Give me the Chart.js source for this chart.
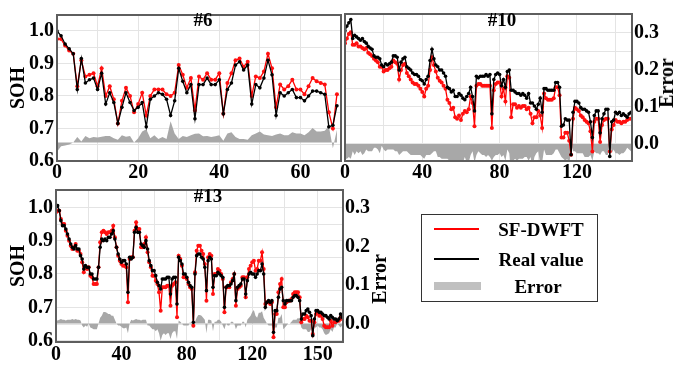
<!DOCTYPE html>
<html>
<head>
<meta charset="utf-8">
<script src="https://cdn.jsdelivr.net/npm/chart.js@4.4.1/dist/chart.umd.min.js"></script>
<style>
  html, body { margin: 0; padding: 0; background: #fff; }
  body { width: 688px; height: 367px; position: relative; overflow: hidden;
         font-family: "Liberation Serif", "Times New Roman", serif; font-weight: bold; color: #000; }
  canvas { position: absolute; }
  .lbl { position: absolute; font-size: 19px; transform: translate(-50%, -50%); white-space: nowrap; line-height: 1; }
  .vlbl { position: absolute; font-size: 20px; transform: translate(-50%, -50%) rotate(-90deg); white-space: nowrap; line-height: 1; }
  .box { position: absolute; left: 421px; top: 214px; width: 177px; height: 88px; border: 1px solid #333; box-sizing: border-box; }
  .key { position: absolute; }
</style>
</head>
<body>
<canvas id="c6" width="345" height="182" style="left:0;top:0"></canvas>
<canvas id="c10" width="368" height="182" style="left:320px;top:0"></canvas>
<canvas id="c13" width="400" height="192" style="left:0;top:175px"></canvas>

<div class="lbl" style="left:203px;top:19px">#6</div>
<div class="lbl" style="left:502px;top:19px">#10</div>
<div class="lbl" style="left:208px;top:195px">#13</div>
<div class="vlbl" style="left:666px;top:83px">Error</div>
<div class="vlbl" style="left:379px;top:279px">Error</div>

<div class="box"></div>
<div class="key" style="left:434px;top:228px;width:45px;height:2px;background:#ff0000"></div>
<div class="key" style="left:434px;top:258px;width:45px;height:2px;background:#000"></div>
<div class="key" style="left:434px;top:282px;width:47px;height:8px;background:#c0c0c0"></div>
<div class="lbl" style="left:541px;top:229px">SF-DWFT</div>
<div class="lbl" style="left:541px;top:259px">Real value</div>
<div class="lbl" style="left:538px;top:286px">Error</div>

<script>
// battery #6
const real6 = [1.0,0.985,0.96,0.945,0.93,0.82,0.915,0.84,0.85,0.855,
  0.82,0.87,0.775,0.81,0.78,0.715,0.765,0.81,0.78,0.755,
  0.765,0.78,0.705,0.79,0.8,0.81,0.805,0.79,0.74,0.785,
  0.885,0.845,0.81,0.835,0.73,0.835,0.835,0.855,0.835,0.835,
  0.85,0.745,0.82,0.84,0.895,0.905,0.88,0.895,0.775,0.835,
  0.825,0.855,0.91,0.865,0.74,0.81,0.8,0.81,0.82,0.795,
  0.795,0.785,0.8,0.815,0.815,0.81,0.805,0.705,0.71,0.77];
const pred6 = [0.975,0.975,0.955,0.94,0.93,0.83,0.91,0.86,0.865,0.87,
  0.83,0.885,0.8,0.83,0.79,0.715,0.785,0.825,0.8,0.75,
  0.775,0.81,0.74,0.8,0.82,0.82,0.82,0.805,0.8,0.81,
  0.895,0.865,0.825,0.855,0.755,0.86,0.85,0.87,0.85,0.85,
  0.87,0.745,0.84,0.87,0.91,0.915,0.89,0.905,0.8,0.86,
  0.855,0.875,0.93,0.885,0.765,0.835,0.82,0.83,0.85,0.82,
  0.82,0.805,0.83,0.855,0.845,0.84,0.835,0.75,0.7,0.805];
const err6 = [-0.025,-0.01,-0.008,-0.005,0.0,0.015,0.003,0.018,0.012,0.015,
  0.014,0.016,0.018,0.018,0.012,0.008,0.02,0.016,0.018,0.0,
  0.012,0.03,0.036,0.012,0.02,0.01,0.015,0.01,0.058,0.025,
  0.01,0.018,0.015,0.02,0.024,0.025,0.017,0.018,0.015,0.017,
  0.02,0.005,0.025,0.028,0.015,0.01,0.01,0.008,0.02,0.025,
  0.03,0.022,0.02,0.018,0.022,0.025,0.02,0.02,0.028,0.025,
  0.025,0.02,0.028,0.04,0.03,0.03,0.032,0.045,-0.015,0.035];

// battery #10
const real10 = [0.998,1.012,1.022,1.032,0.974,0.984,0.979,0.974,0.969,0.974,
  0.965,0.96,0.95,0.945,0.941,0.921,0.917,0.917,0.912,0.893,
  0.888,0.897,0.893,0.897,0.902,0.921,0.921,0.917,0.878,0.902,
  0.912,0.917,0.888,0.883,0.878,0.869,0.864,0.864,0.859,0.849,
  0.845,0.835,0.849,0.859,0.907,0.941,0.912,0.893,0.888,0.878,
  0.878,0.869,0.859,0.825,0.821,0.811,0.816,0.797,0.797,0.806,
  0.801,0.792,0.787,0.797,0.806,0.825,0.797,0.753,0.859,0.854,
  0.859,0.859,0.859,0.864,0.859,0.864,0.744,0.849,0.864,0.869,
  0.864,0.83,0.849,0.825,0.873,0.878,0.816,0.816,0.811,0.806,
  0.806,0.801,0.806,0.801,0.792,0.806,0.777,0.777,0.768,0.758,
  0.773,0.792,0.749,0.821,0.821,0.816,0.816,0.816,0.816,0.84,
  0.84,0.825,0.706,0.71,0.729,0.725,0.725,0.619,0.749,0.782,
  0.782,0.777,0.763,0.758,0.758,0.753,0.749,0.72,0.672,0.739,
  0.753,0.753,0.686,0.729,0.744,0.758,0.758,0.614,0.72,0.725,
  0.749,0.744,0.749,0.739,0.744,0.739,0.734,0.744,0.749];
const pred10 = [0.96,0.974,0.988,0.993,0.955,0.955,0.96,0.95,0.95,0.945,
  0.941,0.945,0.931,0.926,0.921,0.912,0.907,0.902,0.888,0.888,
  0.873,0.878,0.878,0.883,0.888,0.907,0.902,0.897,0.849,0.878,
  0.893,0.897,0.869,0.859,0.849,0.84,0.835,0.835,0.83,0.821,
  0.811,0.797,0.821,0.83,0.878,0.917,0.893,0.873,0.854,0.845,
  0.84,0.83,0.821,0.787,0.777,0.758,0.763,0.734,0.729,0.739,
  0.725,0.744,0.753,0.749,0.758,0.797,0.777,0.706,0.83,0.835,
  0.835,0.83,0.83,0.83,0.83,0.83,0.701,0.816,0.835,0.84,
  0.84,0.797,0.821,0.782,0.859,0.854,0.734,0.773,0.773,0.763,
  0.768,0.763,0.768,0.768,0.758,0.763,0.744,0.715,0.734,0.734,
  0.753,0.739,0.701,0.806,0.792,0.787,0.787,0.787,0.792,0.825,
  0.825,0.801,0.672,0.672,0.686,0.686,0.662,0.619,0.729,0.763,
  0.758,0.753,0.739,0.734,0.725,0.72,0.715,0.691,0.629,0.72,
  0.729,0.729,0.658,0.71,0.725,0.729,0.729,0.629,0.696,0.71,
  0.725,0.72,0.72,0.715,0.72,0.72,0.725,0.729,0.729];
const err10 = [-0.04,-0.04,-0.035,-0.04,-0.02,-0.03,-0.02,-0.025,-0.02,-0.03,
  -0.025,-0.015,-0.02,-0.02,-0.02,-0.01,-0.01,-0.015,-0.025,-0.005,
  -0.015,-0.02,-0.015,-0.015,-0.015,-0.015,-0.02,-0.02,-0.03,-0.025,
  -0.02,-0.02,-0.02,-0.025,-0.03,-0.03,-0.03,-0.03,-0.03,-0.03,
  -0.035,-0.04,-0.03,-0.03,-0.03,-0.025,-0.02,-0.02,-0.035,-0.035,
  -0.04,-0.04,-0.04,-0.04,-0.045,-0.055,-0.055,-0.065,-0.07,-0.07,
  -0.08,-0.05,-0.035,-0.05,-0.05,-0.03,-0.02,-0.05,-0.03,-0.02,
  -0.025,-0.03,-0.03,-0.035,-0.03,-0.035,-0.045,-0.035,-0.03,-0.03,
  -0.025,-0.035,-0.03,-0.045,-0.015,-0.025,-0.085,-0.045,-0.04,-0.045,
  -0.04,-0.04,-0.04,-0.035,-0.035,-0.045,-0.035,-0.065,-0.035,-0.025,
  -0.02,-0.055,-0.05,-0.015,-0.03,-0.03,-0.03,-0.03,-0.025,-0.015,
  -0.015,-0.025,-0.035,-0.04,-0.045,-0.04,-0.065,0.0,-0.02,-0.02,
  -0.025,-0.025,-0.025,-0.025,-0.035,-0.035,-0.035,-0.03,-0.045,-0.02,
  -0.025,-0.025,-0.03,-0.02,-0.02,-0.03,-0.03,0.015,-0.025,-0.015,
  -0.025,-0.025,-0.03,-0.025,-0.025,-0.02,-0.01,-0.015,-0.02];

// battery #13
const real13 = [1.0,1.005,0.99,0.96,0.945,0.945,0.935,0.92,0.905,0.89,
  0.88,0.875,0.885,0.875,0.875,0.855,0.845,0.815,0.825,0.82,
  0.82,0.8,0.8,0.785,0.785,0.785,0.82,0.88,0.905,0.9,
  0.905,0.9,0.91,0.91,0.92,0.93,0.905,0.88,0.86,0.845,
  0.835,0.84,0.84,0.83,0.745,0.85,0.845,0.85,0.925,0.94,
  0.925,0.925,0.89,0.885,0.88,0.9,0.875,0.84,0.825,0.81,
  0.81,0.795,0.775,0.765,0.755,0.785,0.785,0.785,0.79,0.79,
  0.74,0.785,0.79,0.79,0.71,0.85,0.84,0.83,0.8,0.8,
  0.79,0.775,0.765,0.76,0.655,0.8,0.855,0.86,0.86,0.85,
  0.845,0.82,0.75,0.84,0.85,0.845,0.76,0.795,0.795,0.805,
  0.8,0.795,0.79,0.7,0.76,0.765,0.765,0.77,0.78,0.8,
  0.72,0.76,0.765,0.77,0.785,0.785,0.74,0.78,0.8,0.805,
  0.8,0.8,0.79,0.8,0.81,0.81,0.83,0.8,0.7,0.715,
  0.72,0.715,0.72,0.625,0.69,0.69,0.73,0.755,0.76,0.72,
  0.71,0.72,0.72,0.72,0.72,0.73,0.735,0.735,0.73,0.72,
  0.665,0.68,0.68,0.69,0.695,0.685,0.675,0.615,0.665,0.69,
  0.69,0.685,0.685,0.68,0.675,0.675,0.67,0.665,0.675,0.67,
  0.665,0.665,0.66,0.665,0.68,0.67];
const pred13 = [0.985,0.99,0.99,0.965,0.95,0.95,0.93,0.915,0.9,0.885,
  0.875,0.88,0.89,0.87,0.87,0.86,0.835,0.805,0.82,0.815,
  0.82,0.795,0.79,0.77,0.77,0.77,0.82,0.895,0.925,0.93,
  0.925,0.92,0.925,0.925,0.93,0.945,0.91,0.88,0.855,0.84,
  0.83,0.825,0.825,0.82,0.715,0.845,0.85,0.85,0.93,0.955,
  0.935,0.935,0.88,0.88,0.89,0.91,0.865,0.835,0.82,0.795,
  0.795,0.78,0.77,0.745,0.69,0.76,0.76,0.76,0.765,0.765,
  0.705,0.765,0.77,0.775,0.67,0.855,0.845,0.825,0.79,0.79,
  0.785,0.77,0.76,0.755,0.645,0.805,0.87,0.885,0.885,0.87,
  0.86,0.83,0.72,0.85,0.86,0.855,0.74,0.8,0.8,0.815,
  0.81,0.8,0.785,0.685,0.76,0.76,0.76,0.775,0.785,0.8,
  0.705,0.755,0.76,0.765,0.79,0.79,0.73,0.79,0.815,0.825,
  0.835,0.84,0.81,0.815,0.84,0.84,0.865,0.815,0.71,0.715,
  0.715,0.71,0.715,0.61,0.68,0.68,0.745,0.77,0.785,0.7,
  0.7,0.715,0.72,0.72,0.725,0.74,0.745,0.745,0.745,0.73,
  0.655,0.665,0.665,0.675,0.67,0.66,0.66,0.62,0.655,0.68,
  0.685,0.675,0.675,0.665,0.645,0.64,0.64,0.64,0.66,0.645,
  0.655,0.655,0.66,0.66,0.67,0.665];
const err13 = [0.01,0.008,0.01,0.012,0.01,0.01,0.008,0.01,0.01,0.01,
  0.012,0.01,0.012,0.01,0.01,0.008,-0.005,-0.01,-0.005,-0.008,
  0.0,-0.01,-0.012,-0.015,-0.015,-0.015,0.0,0.015,0.02,0.03,
  0.03,0.028,0.025,0.025,0.02,0.02,0.01,0.0,-0.005,-0.005,
  -0.008,-0.012,-0.012,-0.01,-0.025,0.0,0.01,0.008,0.01,0.012,
  0.01,0.01,0.008,0.01,0.01,0.01,-0.005,-0.005,-0.01,-0.015,
  -0.015,-0.02,-0.015,-0.025,-0.045,-0.03,-0.025,-0.03,-0.025,-0.025,
  -0.04,-0.025,-0.02,-0.02,-0.04,0.008,0.005,0.0,-0.005,-0.005,
  -0.005,-0.005,0.005,-0.005,-0.012,0.005,0.015,0.022,0.022,0.02,
  0.015,0.01,-0.025,0.01,0.01,0.008,-0.02,0.005,0.005,0.01,
  0.01,0.005,-0.005,-0.015,0.0,-0.005,-0.005,0.005,0.005,0.0,
  -0.015,-0.005,-0.005,-0.005,0.005,0.005,-0.01,0.01,0.015,0.02,
  0.03,0.035,0.02,0.015,0.028,0.028,0.032,0.015,0.008,0.0,
  -0.005,-0.005,-0.005,-0.015,-0.01,-0.01,0.015,0.015,0.025,-0.015,
  -0.01,-0.005,0.0,0.0,0.005,0.01,0.01,0.01,0.015,0.01,
  -0.01,-0.015,-0.015,-0.015,-0.022,-0.022,-0.015,0.005,-0.01,-0.01,
  -0.005,-0.01,-0.01,-0.015,-0.025,-0.03,-0.028,-0.025,-0.015,-0.022,
  -0.01,-0.01,0.0,-0.005,-0.01,-0.005];

// ticks and grid
const sohGrid = [0.6,0.65,0.7,0.75,0.8,0.85,0.9,0.95,1.0];
const sohTicks = [0.6,0.7,0.8,0.9,1.0];
const sohText = ["0.6","0.7","0.8","0.9","1.0"];
const errGrid = [0,0.05,0.1,0.15,0.2,0.25,0.3,0.35];
const errTicks = [0,0.1,0.2,0.3];
const errText = ["0.0","0.1","0.2","0.3"];
const x6Grid = [0,10,20,30,40,50,60,70];
const x6Ticks = [0,20,40,60];
const x6Text = ["0","20","40","60"];
const x10Grid = [0,20,40,60,80,100,120,140];
const x10Ticks = [0,40,80,120];
const x10Text = ["0","40","80","120"];
const x13Grid = [0,20,40,60,80,100,120,140,160];
const x13Ticks = [0,40,80,120,160];
const x13Text = ["0","40","80","120","150"];

const FONT = { family: "'Liberation Serif', 'Times New Roman', serif", weight: "bold", size: 20 };
const GRID = "#e4e4e4";

// frame around the plot area
const framePlugin = {
  id: "frame",
  afterDatasetsDraw(chart) {
    const a = chart.chartArea, ctx = chart.ctx;
    ctx.save();
    ctx.strokeStyle = "#5e5e5e";
    ctx.lineWidth = 2;
    ctx.strokeRect(a.left, a.top, a.right - a.left, a.bottom - a.top);
    ctx.restore();
  }
};

function pts(arr) {
  return arr.map((v, i) => ({ x: i, y: v }));
}

function labeler(values, texts) {
  return v => {
    const k = values.findIndex(t => Math.abs(t - v) < 1e-6);
    return k < 0 ? "" : texts[k];
  };
}

function makePanel(id, p) {
  return new Chart(document.getElementById(id), {
    type: "line",
    data: {
      datasets: [
        { label: "Real value", data: pts(p.real), yAxisID: "y", order: 1,
          borderColor: "#000", backgroundColor: "#000", borderWidth: 1.3,
          pointRadius: 1.8, pointBorderWidth: 0, pointBackgroundColor: "#000", fill: false },
        { label: "SF-DWFT", data: pts(p.pred), yAxisID: "y", order: 2,
          borderColor: "#ff0000", backgroundColor: "#ff0000", borderWidth: 1.3,
          pointRadius: 2, pointBorderWidth: 0, pointBackgroundColor: "#ff1010", fill: false },
        { label: "Error", data: pts(p.err), yAxisID: "y1", order: 3,
          borderWidth: 0, pointRadius: 0, backgroundColor: "#a8a8a8", fill: "origin" }
      ]
    },
    options: {
      responsive: false,
      animation: false,
      devicePixelRatio: 1,
      layout: { padding: p.pad },
      plugins: { legend: { display: false }, tooltip: { enabled: false } },
      scales: {
        x: {
          type: "linear", min: 0, max: p.xMax,
          afterBuildTicks: s => { s.ticks = p.xGrid.map(v => ({ value: v })); },
          afterFit: s => { s.height = p.xH; },
          ticks: { font: FONT, color: "#000", padding: p.xPad, maxRotation: 0, autoSkip: false,
                   callback: labeler(p.xTicks, p.xText) },
          grid: { color: GRID, drawTicks: false },
          border: { display: false }
        },
        y: {
          position: "left", min: p.soh[0], max: p.soh[1], display: p.showSoh,
          afterBuildTicks: s => { s.ticks = sohGrid.map(v => ({ value: v })); },
          afterFit: s => { s.width = p.yW; },
          ticks: { font: FONT, color: "#000", padding: 3, autoSkip: false,
                   callback: labeler(sohTicks, sohText) },
          grid: { color: GRID, drawTicks: false },
          border: { display: false },
          title: { display: true, text: "SOH", color: "#000", font: FONT, padding: { top: 7, bottom: 0 } }
        },
        y1: {
          position: "right", min: p.errRange[0], max: p.errRange[1], display: p.showErr,
          afterBuildTicks: s => { s.ticks = errGrid.map(v => ({ value: v })); },
          afterFit: s => { s.width = p.y1W; },
          ticks: { font: FONT, color: "#000", padding: 2, autoSkip: false,
                   callback: labeler(errTicks, errText) },
          grid: { color: GRID, drawTicks: false, display: p.errGrid },
          border: { display: false }
        }
      }
    },
    plugins: [framePlugin]
  });
}

makePanel("c6", {
  real: real6, pred: pred6, err: err6,
  xMax: 70, xGrid: x6Grid, xTicks: x6Ticks, xText: x6Text, xH: 21, xPad: 0,
  soh: [0.6, 1.049], showSoh: true, yW: 57,
  errRange: [-0.05, 0.347], showErr: false, errGrid: false, y1W: 0,
  pad: { top: 5, right: 2, left: 0, bottom: 0 }
});

makePanel("c10", {
  real: real10, pred: pred10, err: err10,
  xMax: 148.5, xGrid: x10Grid, xTicks: x10Ticks, xText: x10Text, xH: 21, xPad: 0,
  soh: [0.6, 1.049], showSoh: false, yW: 0,
  errRange: [-0.046, 0.351], showErr: true, errGrid: true, y1W: 56,
  pad: { top: 5, right: 0, left: 25, bottom: 0 }
});

makePanel("c13", {
  real: real13, pred: pred13, err: err13,
  xMax: 175.5, xGrid: x13Grid, xTicks: x13Ticks, xText: x13Text, xH: 25, xPad: 1,
  soh: [0.596, 1.052], showSoh: true, yW: 56,
  errRange: [-0.048, 0.3475], showErr: true, errGrid: false, y1W: 57,
  pad: { top: 8, right: 0, left: 0, bottom: 0 }
});
</script>
</body>
</html>
